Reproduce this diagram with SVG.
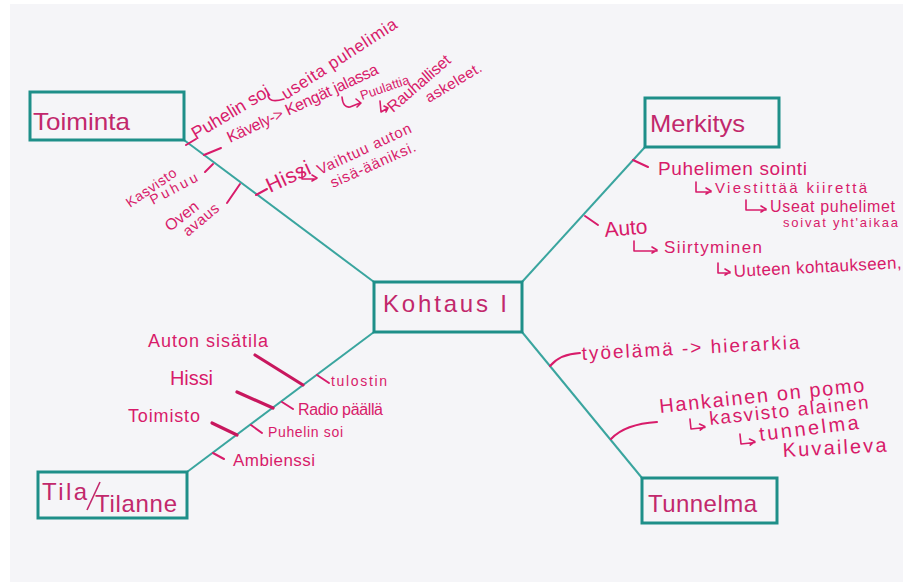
<svg xmlns="http://www.w3.org/2000/svg" width="906" height="582" viewBox="0 0 906 582">
<style>
.bg{fill:#f5f5f8}
.box{fill:#f5f5f8;stroke:#1e8f89;stroke-width:3}
.lbl{font-family:"Liberation Sans",Arial,sans-serif;font-size:24px;fill:#c2286c}
.conn{stroke:#3aa59f;stroke-width:2;fill:none}
.n{font-family:"Liberation Sans",Arial,sans-serif;fill:#d81b6a}
.tk{stroke:#d81b6a;stroke-width:2;fill:none;stroke-linecap:round}
.thick{stroke:#c8175e;stroke-width:3.2;fill:none;stroke-linecap:round}
.hook{stroke:#d81b6a;stroke-width:1.6;fill:none;stroke-linecap:round;stroke-linejoin:round}
</style>
<rect x="0" y="0" width="906" height="582" fill="#ffffff"/>
<rect class="bg" x="10" y="4" width="893" height="578"/>

<g id="connectors">
<line class="conn" x1="184" y1="140" x2="374" y2="282"/>
<line class="conn" x1="645" y1="147" x2="522" y2="282"/>
<line class="conn" x1="522" y1="332" x2="642" y2="478"/>
<line class="conn" x1="374" y1="332" x2="187" y2="472"/>
</g>

<g id="kohtaus">
<rect class="box" x="374" y="282" width="148" height="50"/>
<text class="lbl" x="383" y="312" textLength="124" lengthAdjust="spacing">Kohtaus  I</text>
</g>

<g id="toiminta">
<rect class="box" x="30" y="92" width="154" height="48"/>
<text class="lbl" x="33" y="130" textLength="97" lengthAdjust="spacingAndGlyphs">Toiminta</text>
</g>

<g id="merkitys">
<rect class="box" x="645" y="98" width="134" height="49"/>
<text class="lbl" x="650" y="132" textLength="95" lengthAdjust="spacingAndGlyphs">Merkitys</text>
</g>

<g id="tunnelma">
<rect class="box" x="642" y="478" width="135" height="45"/>
<text class="lbl" x="648" y="512" textLength="109" lengthAdjust="spacing">Tunnelma</text>
</g>

<g id="tila">
<rect class="box" x="38" y="472" width="149" height="46"/>
<text class="lbl" x="42" y="500" textLength="45" lengthAdjust="spacing">Tila</text>
<line x1="87" y1="510" x2="100" y2="482" stroke="#c2286c" stroke-width="1.6"/>
<text class="lbl" x="95" y="512" textLength="82" lengthAdjust="spacing">Tilanne</text>
</g>

<g id="toiminta-notes">
<path class="tk" d="M186,145 L196,139"/>
<text class="n" font-size="18" transform="translate(196,140) rotate(-31)" textLength="88" lengthAdjust="spacing">Puhelin soi</text>
<path class="hook" d="M268,94 Q268,104 284,99"/>
<text class="n" font-size="17" transform="translate(286,100) rotate(-33)" textLength="134" lengthAdjust="spacing">useita puhelimia</text>
<path class="tk" d="M204,155 L221,148"/>
<text class="n" font-size="16" transform="translate(230,143) rotate(-25)" textLength="165" lengthAdjust="spacing">Kävely-&gt; Kengät jalassa</text>
<path class="hook" d="M342,97 Q343,108 350,107 L360,103 M356,99 L361,103 L357,107"/>
<text class="n" font-size="13" transform="translate(362,100) rotate(-19)" textLength="51" lengthAdjust="spacing">Puulattia</text>
<path class="hook" d="M380,101 L381,112 L388,108 M384,106 L388,108 L386,112"/>
<text class="n" font-size="16" transform="translate(393,113) rotate(-41)" textLength="78" lengthAdjust="spacing">Rauhalliset</text>
<text class="n" font-size="15" transform="translate(429,103) rotate(-31)" textLength="63" lengthAdjust="spacing">askeleet.</text>
<path class="tk" d="M213,164 L205,172"/>
<text class="n" font-size="14" transform="translate(130,208) rotate(-34.5)" textLength="58" lengthAdjust="spacing">Kasvisto</text>
<text class="n" font-size="14" transform="translate(153,205) rotate(-28)" textLength="52" lengthAdjust="spacing">Puhuu</text>
<path class="tk" d="M240,184 L227,203"/>
<text class="n" font-size="16" transform="translate(170,232) rotate(-38)" textLength="38" lengthAdjust="spacing">Oven</text>
<text class="n" font-size="15" transform="translate(188,237) rotate(-40)" textLength="42" lengthAdjust="spacing">avaus</text>
<path class="tk" d="M256,195 L267,189"/>
<text class="n" font-size="21" transform="translate(270,193) rotate(-25)" textLength="47" lengthAdjust="spacing">Hissi</text>
<path class="hook" d="M302,168 V179 H316 M312,175 L317,178 L312,181"/>
<text class="n" font-size="15" transform="translate(320,175) rotate(-25)" textLength="102" lengthAdjust="spacing">Vaihtuu auton</text>
<text class="n" font-size="15" transform="translate(333,188) rotate(-24)" textLength="92" lengthAdjust="spacing">sisä-ääniksi.</text>
</g>

<g id="merkitys-notes">
<path class="tk" d="M633,160 L648,167"/>
<text class="n" font-size="19" x="658" y="175" textLength="149" lengthAdjust="spacing">Puhelimen sointi</text>
<path class="hook" d="M696,182 V192 H711 M706,188 L711,191 L706,194"/>
<text class="n" font-size="15" x="715" y="193" textLength="152" lengthAdjust="spacing">Viestittää kiirettä</text>
<path class="hook" d="M746,200 V210 H766 M761,206 L766,209 L761,212"/>
<text class="n" font-size="16" x="770" y="212" textLength="125" lengthAdjust="spacing">Useat puhelimet</text>
<text class="n" font-size="13" x="783" y="227" textLength="115" lengthAdjust="spacing">soivat yht'aikaa</text>
<path class="tk" d="M585,216 L598,225"/>
<text class="n" font-size="21" x="605" y="237" textLength="43" lengthAdjust="spacing" transform="rotate(-5 605 237)">Auto</text>
<path class="hook" d="M634,241 V251 H657 M652,247 L657,250 L652,253"/>
<text class="n" font-size="17" x="664" y="253" textLength="98" lengthAdjust="spacing">Siirtyminen</text>
<path class="hook" d="M718,263 V273 H730 M725,269 L730,272 L725,275"/>
<text class="n" font-size="17" x="734" y="277" textLength="168" lengthAdjust="spacing" transform="rotate(-3 734 277)">Uuteen kohtaukseen,</text>
</g>

<g id="tunnelma-notes">
<path class="tk" d="M550,366 Q560,354 580,353"/>
<text class="n" font-size="19" x="582" y="360" textLength="218" lengthAdjust="spacing" transform="rotate(-3 582 360)">työelämä -&gt; hierarkia</text>
<path class="tk" d="M611,439 Q625,424 657,422"/>
<text class="n" font-size="20" x="660" y="413" textLength="206" lengthAdjust="spacing" transform="rotate(-6 660 413)">Hankainen on pomo</text>
<path class="hook" d="M691,419 V429 H705 M700,425 L705,428 L700,431" transform="rotate(-6 691 429)"/>
<text class="n" font-size="19" x="710" y="425" textLength="160" lengthAdjust="spacing" transform="rotate(-6 710 425)">kasvisto alainen</text>
<path class="hook" d="M741,434 V444 H755 M750,440 L755,443 L750,446" transform="rotate(-6 741 444)"/>
<text class="n" font-size="20" x="760" y="441" textLength="100" lengthAdjust="spacing" transform="rotate(-7 760 441)">tunnelma</text>
<text class="n" font-size="20" x="783" y="457" textLength="104" lengthAdjust="spacing" transform="rotate(-3 783 457)">Kuvaileva</text>
</g>

<g id="tila-notes">
<text class="n" font-size="18" x="148" y="347" textLength="120" lengthAdjust="spacing">Auton sisätila</text>
<path class="thick" d="M255,355 L303,385"/>
<path class="tk" d="M317,375 L329,383"/>
<text class="n" font-size="14" x="331" y="386" textLength="56" lengthAdjust="spacing">tulostin</text>
<text class="n" font-size="20" x="170" y="385" textLength="43" lengthAdjust="spacing">Hissi</text>
<path class="thick" d="M237,392 L273,408"/>
<path class="tk" d="M282,402 L293,409"/>
<text class="n" font-size="16" x="298" y="415" textLength="85" lengthAdjust="spacing">Radio päällä</text>
<text class="n" font-size="18" x="128" y="422" textLength="72" lengthAdjust="spacing">Toimisto</text>
<path class="thick" d="M212,423 L237,435"/>
<path class="tk" d="M251,425 L262,433"/>
<text class="n" font-size="14" x="268" y="437" textLength="75" lengthAdjust="spacing">Puhelin soi</text>
<path class="tk" d="M213,453 L224,459"/>
<text class="n" font-size="17" x="233" y="466" textLength="82" lengthAdjust="spacing">Ambienssi</text>
</g>
</svg>
